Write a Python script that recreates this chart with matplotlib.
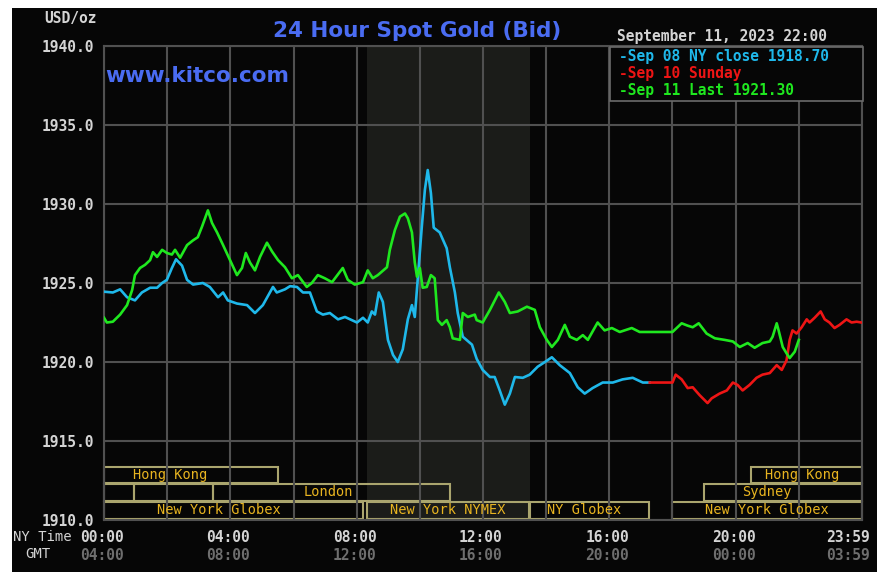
import matplotlib
matplotlib.use("Agg")
import matplotlib.pyplot as plt
from matplotlib.patches import Rectangle
import matplotlib.transforms as mtransforms

# ---------------- data (NY time in hours, price USD/oz) ----------------
sep08_t = [0.00, 0.28, 0.51, 0.73, 0.98, 1.20, 1.46, 1.68, 1.84, 1.99, 2.15, 2.28, 2.47, 2.63,
           2.82, 3.13, 3.35, 3.61, 3.77, 3.92, 4.21, 4.53, 4.78, 5.03, 5.35, 5.47, 5.73, 5.89,
           6.11, 6.30, 6.52, 6.74, 6.93, 7.15, 7.41, 7.63, 8.01, 8.20, 8.35, 8.48, 8.58, 8.70,
           8.83, 8.99, 9.15, 9.30, 9.46, 9.62, 9.75, 9.84, 9.94, 10.06, 10.16, 10.25, 10.35,
           10.44, 10.63, 10.85, 10.95, 11.11, 11.20, 11.36, 11.65, 11.80, 11.99, 12.22, 12.37,
           12.53, 12.69, 12.85, 13.01, 13.26, 13.48, 13.73, 13.96, 14.18, 14.43, 14.75, 15.00,
           15.22, 15.47, 15.79, 16.11, 16.42, 16.74, 17.06, 17.28]
sep08_v = [1924.45, 1924.4, 1924.6, 1924.1, 1923.9, 1924.4, 1924.7, 1924.7, 1925.0, 1925.2,
           1925.95, 1926.5, 1926.1, 1925.2, 1924.9, 1925.0, 1924.75, 1924.1, 1924.4, 1923.9,
           1923.7, 1923.6, 1923.1, 1923.6, 1924.75, 1924.4, 1924.6, 1924.8,
           1924.75, 1924.4, 1924.4, 1923.2, 1923.0, 1923.1, 1922.7, 1922.85, 1922.5, 1922.8,
           1922.5, 1923.2, 1923.0, 1924.4, 1923.8, 1921.4, 1920.45, 1920.0, 1920.8, 1922.7,
           1923.6, 1922.85, 1925.4, 1928.5, 1930.9, 1932.15, 1930.7, 1928.5, 1928.2, 1927.2,
           1926.0, 1924.4, 1923.1, 1921.6, 1921.1, 1920.2, 1919.5, 1919.05, 1919.05, 1918.2,
           1917.3, 1918.0, 1919.05, 1919.0, 1919.2, 1919.7, 1920.0, 1920.3, 1919.8, 1919.3,
           1918.4, 1918.0, 1918.35, 1918.7, 1918.7, 1918.9, 1919.0, 1918.7, 1918.7]

sep10_t = [17.28, 18.00, 18.10, 18.29, 18.48, 18.64, 18.86, 19.11, 19.24, 19.49, 19.72, 19.91,
           20.06, 20.22, 20.44, 20.66, 20.85, 21.08, 21.30, 21.46, 21.61, 21.71, 21.80, 21.93,
           22.09, 22.25, 22.34, 22.50, 22.69, 22.82, 22.97, 23.13, 23.29, 23.51, 23.67, 23.83,
           23.98]
sep10_v = [1918.7, 1918.7, 1919.2, 1918.9, 1918.35, 1918.4, 1917.9, 1917.4, 1917.7, 1918.0,
           1918.2, 1918.7, 1918.55, 1918.2, 1918.55, 1919.0, 1919.2, 1919.3, 1919.8, 1919.5,
           1920.1, 1921.4, 1922.0, 1921.8, 1922.2, 1922.7, 1922.5, 1922.8, 1923.2, 1922.7,
           1922.5, 1922.15, 1922.35, 1922.7, 1922.5, 1922.55, 1922.5]

sep11_t = [0.00, 0.09, 0.28, 0.51, 0.73, 0.89, 0.98, 1.14, 1.30, 1.46, 1.55, 1.68, 1.84, 1.99,
           2.15, 2.25, 2.41, 2.63, 2.82, 2.97, 3.10, 3.20, 3.29, 3.42, 3.58, 3.77, 3.99, 4.21,
           4.37, 4.49, 4.62, 4.78, 4.94, 5.16, 5.32, 5.51, 5.73, 5.95, 6.14, 6.42, 6.58, 6.77,
           6.99, 7.22, 7.56, 7.72, 7.94, 8.20, 8.35, 8.51, 8.67, 8.96, 9.05, 9.21, 9.37, 9.53,
           9.62, 9.75, 9.84, 9.91, 10.00, 10.09, 10.22, 10.35, 10.47, 10.57, 10.70, 10.85,
           10.95, 11.04, 11.27, 11.36, 11.52, 11.74, 11.80, 11.99, 12.22, 12.50, 12.69, 12.85,
           13.10, 13.39, 13.64, 13.80, 14.02, 14.18, 14.37, 14.59, 14.75, 14.97, 15.16, 15.32,
           15.63, 15.85, 16.08, 16.33, 16.71, 16.96, 18.00, 18.29, 18.48, 18.64, 18.83, 19.08,
           19.34, 19.65, 19.91, 20.13, 20.38, 20.60, 20.85, 21.08, 21.17, 21.30, 21.36, 21.49,
           21.61, 21.71, 21.87, 22.00]
sep11_v = [1922.8, 1922.5, 1922.55, 1923.0, 1923.6, 1924.55, 1925.5, 1925.95, 1926.15, 1926.45,
           1926.95, 1926.65, 1927.1, 1926.9, 1926.8, 1927.1, 1926.6, 1927.4, 1927.7, 1927.9,
           1928.55, 1929.1, 1929.6, 1928.8, 1928.2, 1927.4, 1926.45, 1925.5, 1925.95, 1926.9,
           1926.3, 1925.8, 1926.65, 1927.55, 1927.0, 1926.45, 1926.0, 1925.3, 1925.5, 1924.75,
           1925.0, 1925.5, 1925.3, 1925.05, 1925.95, 1925.2, 1924.9, 1925.05, 1925.8, 1925.3,
           1925.5, 1926.0, 1927.1, 1928.35, 1929.2, 1929.4, 1929.1, 1928.2, 1926.3, 1925.4,
           1925.95, 1924.7, 1924.75, 1925.5, 1925.3, 1922.65, 1922.35, 1922.65, 1922.2, 1921.5,
           1921.4, 1923.1, 1922.85, 1923.0, 1922.65, 1922.5, 1923.3, 1924.4, 1923.8, 1923.1,
           1923.2, 1923.5, 1923.3, 1922.2, 1921.4, 1920.95, 1921.4, 1922.35, 1921.6, 1921.4,
           1921.7, 1921.4, 1922.5, 1922.0, 1922.15, 1921.9, 1922.15, 1921.9, 1921.9, 1922.45,
           1922.3, 1922.2, 1922.45, 1921.8, 1921.5, 1921.4, 1921.3, 1920.95, 1921.2, 1920.9,
           1921.2, 1921.3, 1921.6, 1922.45, 1922.0, 1920.95, 1920.55, 1920.25, 1920.65, 1921.4]

legend_labels = ["-Sep 08 NY close 1918.70", "-Sep 10 Sunday", "-Sep 11 Last 1921.30"]
y_ticks = [1910, 1915, 1920, 1925, 1930, 1935, 1940]
ny_labels = ["00:00", "04:00", "08:00", "12:00", "16:00", "20:00", "23:59"]
gmt_labels = ["04:00", "08:00", "12:00", "16:00", "20:00", "00:00", "03:59"]
label_hours = [0, 4, 8, 12, 16, 20, 24]
nymex_span = (8.33, 13.5)

# session rows: (start, end, label, label start hour)
row1 = [(0, 5.5, "Hong Kong", 0.92), (20.5, 24, "Hong Kong", 20.92)]
row2 = [(0, 0.95, "", 0), (0.95, 3.45, "", 0), (3.45, 10.95, "London", 6.33),
        (19.0, 24, "Sydney", 20.19)]
row3 = [(0, 8.2, "New York Globex", 1.68), (8.33, 13.45, "New York NYMEX", 9.05),
        (13.5, 17.25, "NY Globex", 14.02), (18.0, 24, "New York Globex", 19.02)]

# ---------------- styling ----------------
W, H = 885, 583
BG = "#060606"
GRID = "#505050"
CYAN, RED, GREEN = "#1fb8ea", "#ee1515", "#1fe81f"
MONO = ["DejaVu Sans Mono"]

fig = plt.figure(figsize=(W / 100, H / 100), dpi=100, facecolor="white")
fig.patches.append(Rectangle((12 / W, 11 / H), 865 / W, 564 / H, transform=fig.transFigure,
                             facecolor=BG, edgecolor="none", zorder=-10))

ax = fig.add_axes([104 / W, 63 / H, 758 / W, 474 / H])
ax.set_facecolor(BG)
ax.set_xlim(0, 24)
ax.set_ylim(1910, 1940)

ax.axvspan(*nymex_span, color="#1b1c19", zorder=0.5, lw=0)

ax.set_xticks(range(0, 25, 2))
ax.set_xticklabels([])
ax.set_yticks(y_ticks)
ax.set_yticklabels([f"{v:.1f}" for v in y_ticks], family=MONO, fontweight="bold",
                   fontsize=10.5, color="#d4d4d4")
ax.tick_params(length=0, pad=7)
ax.grid(True, color=GRID, lw=1.5, zorder=1)
ax.set_axisbelow(False)
for s in ax.spines.values():
    s.set_color(GRID)
    s.set_linewidth(1.5)

ax.plot(sep08_t, sep08_v, color=CYAN, lw=1.9, zorder=3)
ax.plot(sep10_t, sep10_v, color=RED, lw=1.9, zorder=3)
ax.plot(sep11_t, sep11_v, color=GREEN, lw=1.9, zorder=4)

# session boxes
trans = mtransforms.blended_transform_factory(ax.transData, ax.transAxes)
rows = [(row1, 0.078, 0.112), (row2, 0.041, 0.076), (row3, 0.003, 0.038)]
for row, y0, y1 in rows:
    for s, e, lab, lx in row:
        ax.add_patch(Rectangle((s, y0), e - s, y1 - y0, transform=trans, facecolor="none",
                               edgecolor="#aaa56e", lw=1.5, zorder=2, clip_on=False))
        if lab:
            ax.text(lx, (y0 + y1) / 2, lab, transform=trans, ha="left", va="center",
                    family=MONO, fontsize=9.8, color="#e8b420", zorder=3)

# x labels
for i, (h, ny, gmt) in enumerate(zip(label_hours, ny_labels, gmt_labels)):
    if i == len(label_hours) - 1:
        tr = mtransforms.offset_copy(trans, fig=fig, x=8, y=0, units="dots")
        ha = "right"
    else:
        tr = mtransforms.offset_copy(trans, fig=fig, x=-2, y=0, units="dots")
        ha = "center"
    ax.text(h, -17 / 474, ny, transform=tr, ha=ha, va="center", family=MONO,
            fontweight="bold", fontsize=10.5, color="#d4d4d4")
    ax.text(h, -35 / 474, gmt, transform=tr, ha=ha, va="center", family=MONO,
            fontweight="bold", fontsize=10.5, color="#6e6e6e")

fig.text(13 / W, 1 - 537 / H, "NY Time", ha="left", va="center", family=MONO,
         fontsize=10, color="#d4d4d4")
fig.text(38 / W, 1 - 554 / H, "GMT", ha="center", va="center", family=MONO,
         fontsize=10, color="#d4d4d4")
fig.text(97 / W, 1 - 18 / H, "USD/oz", ha="right", va="center", family=MONO,
         fontweight="bold", fontsize=10.5, color="#d4d4d4")

# titles
fig.text(417 / W, 1 - 31 / H, "24 Hour Spot Gold (Bid)", ha="center", va="center",
         family=["DejaVu Sans"], fontweight="bold", fontsize=15.5, color="#4a6cf2")
fig.text(105 / W, 1 - 76 / H, "www.kitco.com", ha="left", va="center",
         family=["DejaVu Sans"], fontweight="bold", fontsize=15.5, color="#4a6cf2")
fig.text(617 / W, 1 - 37 / H, "September 11, 2023 22:00", ha="left", va="center",
         family=MONO, fontweight="bold", fontsize=10.5, color="#d4d4d4")

# legend
fig.patches.append(Rectangle((610 / W, 1 - 101 / H), 253 / W, 54 / H, transform=fig.transFigure,
                             facecolor=BG, edgecolor="#6a6a6a", lw=1.2, zorder=5))
for i, (lab, col) in enumerate(zip(legend_labels, [CYAN, RED, GREEN])):
    fig.text(619 / W, 1 - (57 + 16.5 * i) / H, lab, ha="left", va="center", family=MONO,
             fontweight="bold", fontsize=10.5, color=col, zorder=6)

fig.savefig("out.png", dpi=100, facecolor="white")
